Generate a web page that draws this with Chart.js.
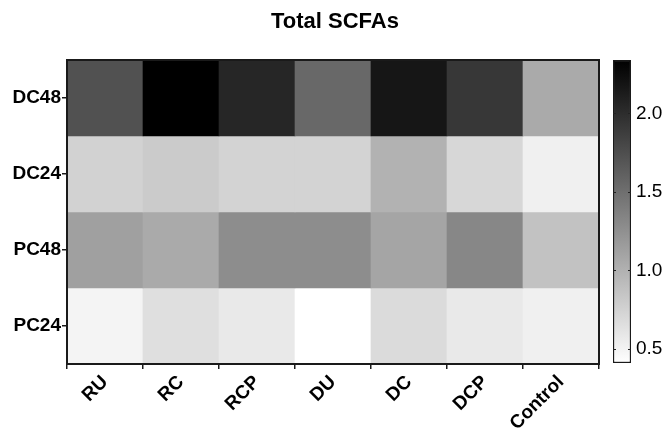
<!DOCTYPE html>
<html>
<head>
<meta charset="utf-8">
<title>Total SCFAs</title>
<script src="https://cdn.jsdelivr.net/npm/chart.js@4/dist/chart.umd.min.js"></script>
<style>
  html, body { margin: 0; padding: 0; background: #fff; }
  #wrap { position: relative; width: 670px; height: 435px; }
  #wrap canvas { position: absolute; left: 0; top: 0; }
  #bar { pointer-events: none; }
</style>
</head>
<body>
<div id="wrap">
  <canvas id="heat" width="670" height="435"></canvas>
  <canvas id="bar" width="670" height="435"></canvas>
</div>
<script>
// Fermentation groups (columns) and sampling points (rows, top to bottom)
const categories = ['RU', 'RC', 'RCP', 'DU', 'DC', 'DCP', 'Control'];
const rows = ['DC48', 'DC24', 'PC48', 'PC24'];

// Total SCFA level per row, one value per group
const DC48 = [1.73, 2.34, 2.05, 1.55, 2.17, 1.92, 1.05];
const DC24 = [0.75, 0.80, 0.74, 0.74, 0.99, 0.71, 0.52];
const PC48 = [1.13, 1.05, 1.27, 1.27, 1.09, 1.32, 0.87];
const PC24 = [0.49, 0.65, 0.58, 0.41, 0.68, 0.58, 0.52];
const rowValues = [DC48, DC24, PC48, PC24];

// Colour scale range and its tick labels
const scaleMin = 0.41;
const scaleMax = 2.34;
const scaleTicks = [0.5, 1.0, 1.5, 2.0];

const FONT = "'Liberation Sans', Arial, Helvetica, sans-serif";

// white (low) -> black (high)
function grey(v) {
  const t = Math.min(1, Math.max(0, (v - scaleMin) / (scaleMax - scaleMin)));
  const g = Math.round(255 * (1 - t));
  return `rgb(${g},${g},${g})`;
}

// frame around the plotting area
const frame = {
  id: 'frame',
  afterDatasetsDraw(chart) {
    const { ctx, chartArea: a } = chart;
    ctx.save();
    ctx.strokeStyle = '#1a1a1a';
    ctx.lineWidth = 2;
    ctx.strokeRect(a.left, a.top, a.right - a.left, a.bottom - a.top);
    ctx.restore();
  }
};

const datasets = rows.map((name, r) => ({
  label: name,
  data: categories.map(() => [r - 0.5, r + 0.5]),
  backgroundColor: rowValues[r].map(grey),
  borderWidth: 0,
  grouped: false,
  barPercentage: 1,
  categoryPercentage: 1
}));

new Chart(document.getElementById('heat'), {
  type: 'bar',
  data: { labels: categories, datasets },
  options: {
    responsive: false,
    animation: false,
    layout: { padding: 0 },
    plugins: {
      legend: { display: false },
      tooltip: { enabled: false },
      title: {
        display: true,
        text: 'Total SCFAs',
        color: '#000',
        font: { family: FONT, size: 22, weight: 'bold', lineHeight: 1 },
        padding: { top: 11, bottom: 27 }
      }
    },
    scales: {
      x: {
        type: 'category',
        offset: true,
        grid: { display: true, drawOnChartArea: false, drawTicks: true, tickLength: 5, color: '#1a1a1a', lineWidth: 1.5 },
        border: { display: true, color: '#1a1a1a', width: 2 },
        ticks: {
          color: '#000',
          font: { family: FONT, size: 19, weight: 'bold' },
          minRotation: 45,
          maxRotation: 45,
          padding: 2,
          autoSkip: false
        },
        afterFit(scale) { scale.height = 71; }
      },
      y: {
        type: 'linear',
        reverse: true,
        min: -0.5,
        max: 3.5,
        grid: { display: true, drawOnChartArea: false, drawTicks: true, tickLength: 5, color: '#1a1a1a', lineWidth: 1.5 },
        border: { display: true, color: '#1a1a1a', width: 2 },
        afterBuildTicks(scale) { scale.ticks = rows.map((_, i) => ({ value: i })); },
        ticks: {
          color: '#000',
          font: { family: FONT, size: 19, weight: 'bold' },
          padding: 1,
          callback: (v) => rows[v]
        },
        afterFit(scale) { scale.width = 67; }
      },
      // keeps room on the right for the colour bar
      side: {
        type: 'linear',
        position: 'right',
        display: true,
        grid: { display: false },
        border: { display: false },
        ticks: { display: false },
        afterFit(scale) { scale.width = 71; }
      }
    }
  },
  plugins: [frame]
});

// short inner marks on both edges of the colour bar
const barMarks = {
  id: 'barMarks',
  afterDatasetsDraw(chart) {
    const { ctx, chartArea: a } = chart;
    const ys = chart.scales.y;
    ctx.save();
    ctx.strokeStyle = '#222';
    ctx.lineWidth = 1;
    scaleTicks.forEach(v => {
      const y = Math.round(ys.getPixelForValue(v)) + 0.5;
      ctx.beginPath();
      ctx.moveTo(a.left, y); ctx.lineTo(a.left + 3, y);
      ctx.moveTo(a.right - 3, y); ctx.lineTo(a.right, y);
      ctx.stroke();
    });
    ctx.restore();
  }
};

new Chart(document.getElementById('bar'), {
  type: 'bar',
  data: {
    labels: ['scale'],
    datasets: [{
      data: [[scaleMin, scaleMax]],
      backgroundColor(context) {
        const chart = context.chart;
        if (!chart.chartArea) return '#888';
        const ys = chart.scales.y;
        const g = chart.ctx.createLinearGradient(0, ys.getPixelForValue(scaleMin), 0, ys.getPixelForValue(scaleMax));
        g.addColorStop(0, '#ffffff');
        g.addColorStop(1, '#000000');
        return g;
      },
      borderColor: '#1a1a1a',
      borderWidth: 1.5,
      borderSkipped: false,
      barPercentage: 1,
      categoryPercentage: 1
    }]
  },
  options: {
    responsive: false,
    animation: false,
    layout: { padding: { left: 613, top: 60, bottom: 72, right: 0 } },
    plugins: { legend: { display: false }, tooltip: { enabled: false } },
    scales: {
      x: { display: false, offset: true },
      y: {
        type: 'linear',
        position: 'right',
        min: scaleMin,
        max: scaleMax,
        grid: { display: false, drawTicks: false, tickLength: 0 },
        border: { display: false },
        afterBuildTicks(scale) { scale.ticks = scaleTicks.map(v => ({ value: v })); },
        ticks: {
          color: '#000',
          font: { family: FONT, size: 19 },
          padding: 5,
          callback: (v) => Number(v).toFixed(1)
        },
        afterFit(scale) { scale.width = 39; }
      }
    }
  },
  plugins: [barMarks]
});
</script>
</body>
</html>
